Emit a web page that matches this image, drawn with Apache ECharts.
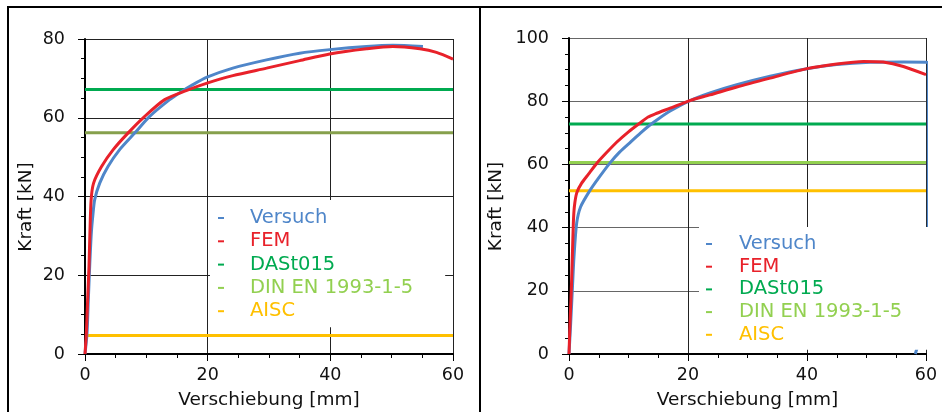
<!DOCTYPE html>
<html>
<head>
<meta charset="utf-8">
<script src="https://cdn.jsdelivr.net/npm/echarts@6/dist/echarts.min.js"></script>
<style>
html,body{margin:0;padding:0;background:#fff;}
#chart{width:942px;height:412px;}
</style>
</head>
<body>
<div id="chart"></div>
<script>
// ---- data ----
const seriesNames = ['Versuch', 'FEM', 'DASt015', 'DIN EN 1993-1-5', 'AISC'];
const xAxisName = 'Verschiebung [mm]';
const yAxisName = 'Kraft [kN]';
const xMax = 60;
const leftYMax = 80;
const rightYMax = 100;

const leftVersuch = [[0,0],[0.33,5.3],[0.54,13.7],[0.76,22.2],[1.03,30.7],[1.3,35.5],[1.58,39.2],[2.4,43.4],[3.75,47.6],[5.65,51.9],[8.1,56.1],[10.5,60.3],[13.8,64.6],[15.4,66.3],[17.6,68.4],[19.9,70.3],[24.1,72.6],[29.6,74.7],[35,76.4],[39.9,77.3],[45.9,78.1],[50.2,78.4],[55.1,78.1]];
const leftFEM = [[0,0],[0.22,5.3],[0.43,13.7],[0.65,22.2],[0.8,30.7],[1.0,39.2],[1.4,43.4],[2.7,47.6],[4.6,51.9],[7.0,56.1],[9.7,60.3],[13.0,64.6],[16.5,66.9],[19.9,68.8],[24.1,70.7],[29.6,72.6],[35,74.5],[39.9,76.2],[45.9,77.5],[50.2,78.1],[54.6,77.5],[57.3,76.6],[60,74.9]];
const leftDASt = 67.2;
const leftDIN = 56.2;
const leftAISC = 4.7;

const rightVersuch = [[0,0],[0.28,9.7],[0.56,20.3],[0.84,30.8],[1.29,41.4],[1.96,46.6],[3.5,51.7],[4.9,55.5],[6.9,60.5],[8.5,63.9],[10.3,67],[12,69.9],[13.5,72.3],[15,74.4],[17,76.9],[20,79.9],[23.7,82.6],[28.2,85.2],[33.8,87.9],[40,90.3],[45,91.6],[50.6,92.3],[56.2,92.4],[60,92.3],[60.4,92.2],[60.4,26],[60.05,24],[60.05,15.5],[58.2,0]];
const rightFEM = [[0,0],[0.17,9.7],[0.39,20.3],[0.56,30.8],[0.73,41.4],[0.9,46.6],[1.3,51],[2.1,54],[3.3,57],[4.65,60.3],[6.2,63.5],[8,67],[10,70.3],[12,73.2],[13.3,75],[14.5,76],[17,77.8],[20.3,80.2],[23.7,82],[28.2,84.5],[33.8,87.3],[40,90.3],[45,91.8],[49.5,92.6],[52.8,92.4],[56.2,91],[60,88.4]];
const rightDASt = 72.8;
const rightDIN = 60.6;
const rightAISC = 51.7;

// ---- styles ----
const FONT = 'DejaVu Sans';
const C_BLUE = '#4f86c9';
const C_RED = '#e8212a';
const C_GREEN = '#00aa50';
const C_LGREEN = '#92d050';
const C_OLIVE = '#86a04c';
const C_GOLD = '#ffc000';
const legendColors = [C_BLUE, C_RED, C_GREEN, C_LGREEN, C_GOLD];

function hline(v) { return [[0, v], [xMax, v]]; }

function xAxisFor(gi) {
  return {
    type: 'value', gridIndex: gi, min: 0, max: xMax, interval: 20,
    name: xAxisName, nameLocation: 'middle', nameGap: 37,
    nameTextStyle: { fontFamily: FONT, fontSize: 18.5, color: '#111' },
    axisLine: { show: true, onZero: false, lineStyle: { color: '#000', width: 2 } },
    axisTick: { show: true, length: 7, lineStyle: { color: '#000', width: 1 } },
    minorTick: { show: true, splitNumber: 4, length: 4, lineStyle: { color: '#000', width: 1 } },
    axisLabel: { fontFamily: FONT, fontSize: 17.5, color: '#111', margin: 12 },
    splitLine: { show: true, lineStyle: { color: '#222', width: 1 } },
    minorSplitLine: { show: false }
  };
}
function yAxisFor(gi, max, gap, hColor) {
  return {
    type: 'value', gridIndex: gi, min: 0, max: max, interval: 20,
    name: yAxisName, nameLocation: 'middle', nameGap: gap, nameRotate: 90,
    nameTextStyle: { fontFamily: FONT, fontSize: 18.5, color: '#111', padding: [0, 21, 0, 0] },
    axisLine: { show: true, onZero: false, lineStyle: { color: '#000', width: 2 } },
    axisTick: { show: true, length: 7, lineStyle: { color: '#000', width: 1 } },
    minorTick: { show: true, splitNumber: 4, length: 4, lineStyle: { color: '#000', width: 1 } },
    axisLabel: { fontFamily: FONT, fontSize: 17.5, color: '#111', margin: 20 },
    splitLine: { show: true, lineStyle: { color: hColor, width: 1 } },
    minorSplitLine: { show: false }
  };
}
function lineSeries(name, gi, data, color, z) {
  return {
    type: 'line', name: name, xAxisIndex: gi, yAxisIndex: gi, data: data,
    showSymbol: false, symbol: 'none', smooth: 0.25, clip: true, z: z,
    lineStyle: { color: color, width: 3 }, itemStyle: { color: color },
    emphasis: { disabled: true }, animation: false
  };
}
function legendFor(left, top, pad, gap, richPad) {
  return {
    orient: 'vertical', left: left, top: top, padding: pad, itemGap: gap, z: 10,
    itemWidth: 6, itemHeight: 2, backgroundColor: '#fff', borderWidth: 0,
    selectedMode: false, icon: 'rect',
    data: seriesNames.map((n, i) => ({
      name: n, icon: 'rect',
      itemStyle: { color: legendColors[i], borderWidth: 0 },
      textStyle: { color: legendColors[i] }
    })),
    formatter: (name) => '{p|' + name + '}',
    textStyle: {
      fontFamily: FONT, fontSize: 19.5, lineHeight: 20,
      rich: { p: { fontFamily: FONT, fontSize: 19.5, lineHeight: 20, padding: [0, 0, 0, richPad] } }
    }
  };
}

const option = {
  backgroundColor: '#fff',
  animation: false,
  grid: [
    { left: 85, top: 39, width: 368, height: 315, containLabel: false, outerBoundsMode: 'none' },
    { left: 569, top: 38, width: 357, height: 316, containLabel: false, outerBoundsMode: 'none' }
  ],
  xAxis: [xAxisFor(0), xAxisFor(1)],
  yAxis: [yAxisFor(0, leftYMax, 49, '#222'), yAxisFor(1, rightYMax, 63, '#666')],
  legend: [
    legendFor(210, 200, [8, 32, 6, 8], 3.3, 21),
    legendFor(699, 227, [7, 28, 5, 7], 2.7, 22)
  ],
  series: [
    lineSeries('DASt015', 0, hline(leftDASt), C_GREEN, 2),
    lineSeries('DIN EN 1993-1-5', 0, hline(leftDIN), C_OLIVE, 2),
    lineSeries('AISC', 0, hline(leftAISC), C_GOLD, 2),
    lineSeries('Versuch', 0, leftVersuch, C_BLUE, 3),
    lineSeries('FEM', 0, leftFEM, C_RED, 3),
    lineSeries('DASt015', 1, hline(rightDASt), C_GREEN, 2),
    lineSeries('DIN EN 1993-1-5', 1, hline(rightDIN), C_LGREEN, 2),
    lineSeries('AISC', 1, hline(rightAISC), C_GOLD, 2),
    lineSeries('Versuch', 1, rightVersuch, C_BLUE, 3),
    lineSeries('FEM', 1, rightFEM, C_RED, 3)
  ],
  graphic: [
    { type: 'line', shape: { x1: 8, y1: 7, x2: 8, y2: 412 }, style: { stroke: '#000', lineWidth: 2 }, silent: true },
    { type: 'line', shape: { x1: 7, y1: 7, x2: 942, y2: 7 }, style: { stroke: '#000', lineWidth: 2 }, silent: true },
    { type: 'line', shape: { x1: 480, y1: 7, x2: 480, y2: 412 }, style: { stroke: '#000', lineWidth: 2 }, silent: true }
  ]
};

const chart = echarts.init(document.getElementById('chart'), null, { renderer: 'canvas' });
chart.setOption(option);
</script>
</body>
</html>
